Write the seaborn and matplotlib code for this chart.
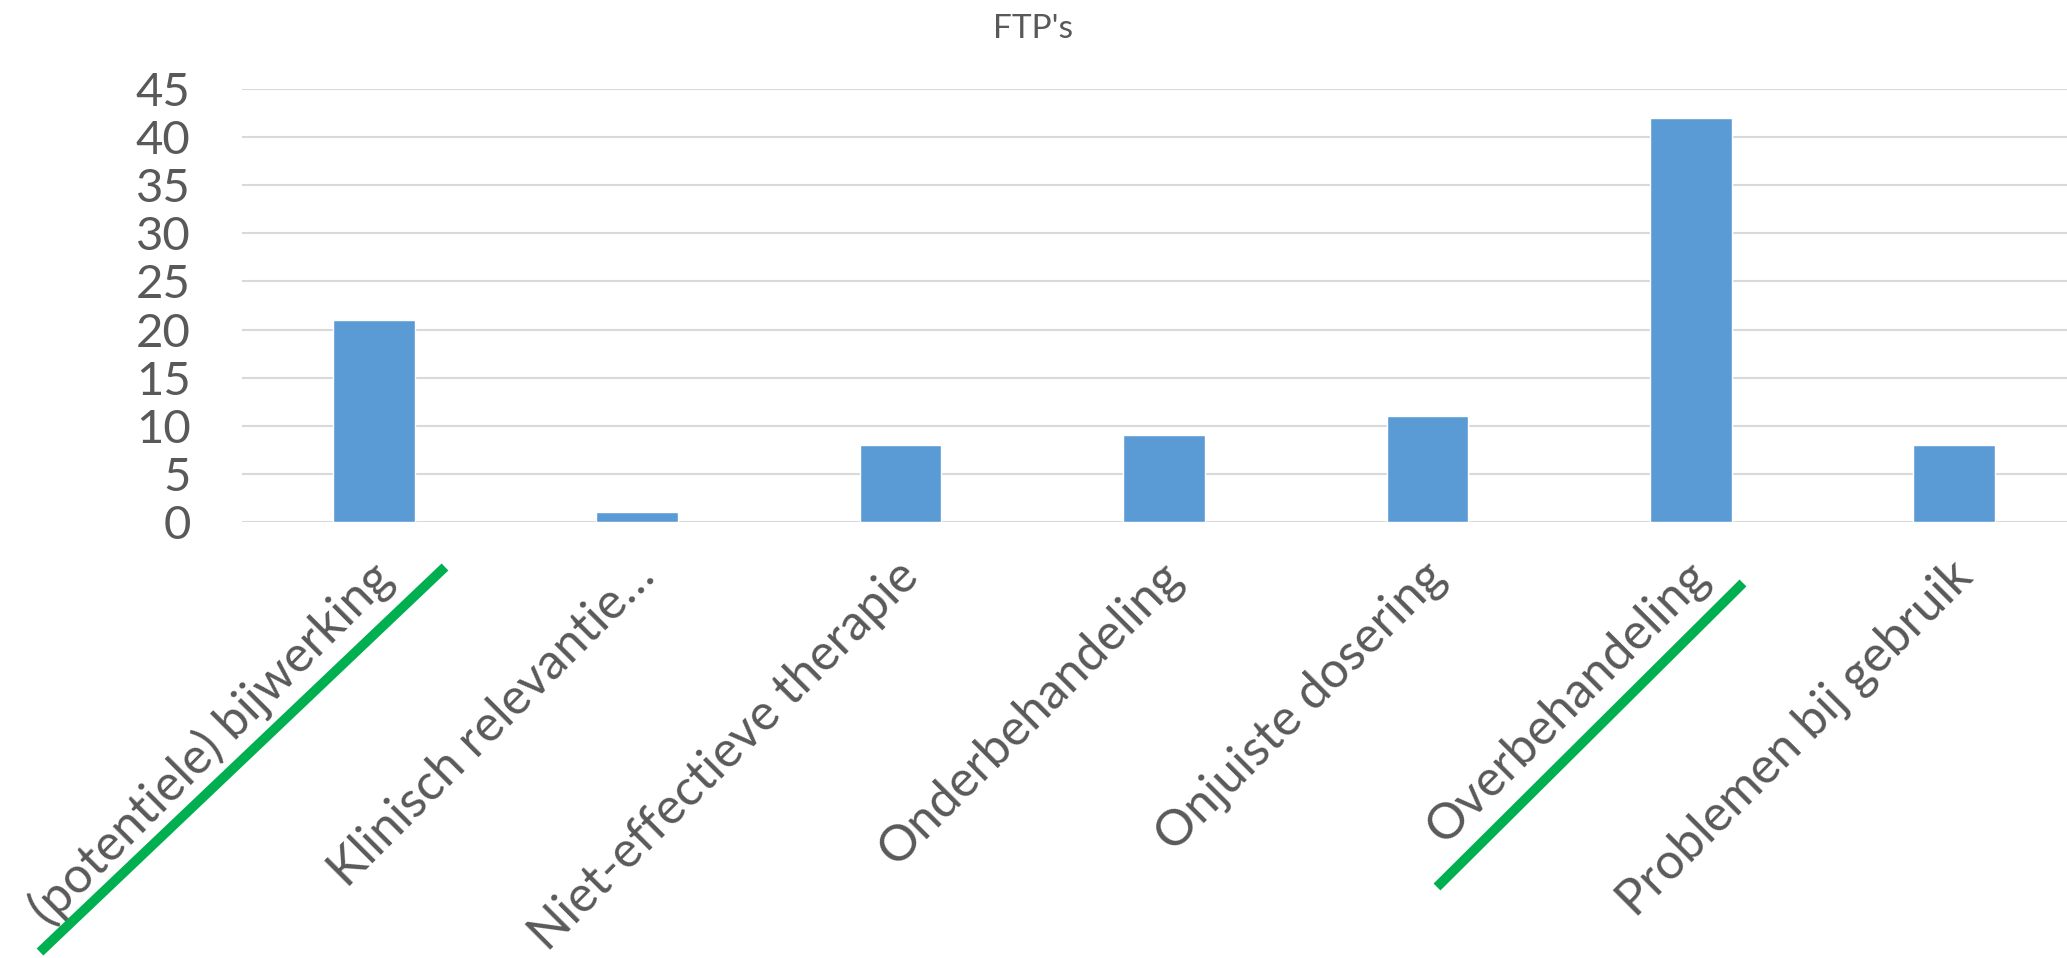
import matplotlib
matplotlib.use("Agg")
import matplotlib.pyplot as plt
import matplotlib.transforms as mtransforms
from matplotlib.lines import Line2D
import seaborn as sns
import pandas as pd

# Categories of drug-related problems and their counts
categories = [
    "(potentiele) bijwerking",
    "Klinisch relevantie…",
    "Niet-effectieve therapie",
    "Onderbehandeling",
    "Onjuiste dosering",
    "Overbehandeling",
    "Problemen bij gebruik",
]
counts = [21, 1, 8, 9, 11, 42, 8]
y_ticks = [0, 5, 10, 15, 20, 25, 30, 35, 40, 45]
title = "FTP's"

sns.set_theme(style="white")
plt.rcParams["font.family"] = ["Lato", "DejaVu Sans"]

TEXT = "#595959"
GRID = "#d9d9d9"
BAR = "#5b9bd5"
HIGHLIGHT = "#00b050"

W, H = 2067, 958
fig = plt.figure(figsize=(W / 100, H / 100), dpi=100)
ax = fig.add_axes([242 / W, 1 - 522 / H, (2086 - 242) / W, 433 / H])

df = pd.DataFrame({"categorie": categories, "aantal": counts})
sns.barplot(data=df, x="categorie", y="aantal", color=BAR, width=0.31,
            saturation=1, ax=ax, zorder=3)

ax.set_ylim(0, 45)
ax.set_xlim(-0.5, len(categories) - 0.5)
ax.set_yticks(y_ticks)
ax.set_yticklabels([str(v) for v in y_ticks])
ax.yaxis.grid(True, color=GRID, linewidth=1.5, zorder=0)
ax.set_axisbelow(True)
for s in ax.spines.values():
    s.set_visible(False)
ax.set_xlabel("")
ax.set_ylabel("")
ax.tick_params(axis="y", length=0, pad=37, labelsize=34, labelcolor=TEXT)
ax.tick_params(axis="x", length=0, pad=22, labelsize=36, labelcolor=TEXT)

shift = mtransforms.ScaledTranslation(-6 / 100, 0, fig.dpi_scale_trans)
for lab in ax.get_xticklabels():
    lab.set_rotation(45)
    lab.set_ha("right")
    lab.set_va("top")
    lab.set_rotation_mode("anchor")
    lab.set_transform(lab.get_transform() + shift)

fig.text(0.5, 1 - 29 / H, title, ha="center", va="center",
         fontsize=24, color=TEXT)

# Green highlight strokes under two of the category labels
for (x0, y0), (x1, y1) in [((445, 567), (40, 952)), ((1743, 583), (1437, 887))]:
    fig.add_artist(Line2D([x0 / W, x1 / W], [1 - y0 / H, 1 - y1 / H],
                          transform=fig.transFigure, color=HIGHLIGHT,
                          linewidth=7, solid_capstyle="butt"))

fig.savefig("out.png", dpi=100)
